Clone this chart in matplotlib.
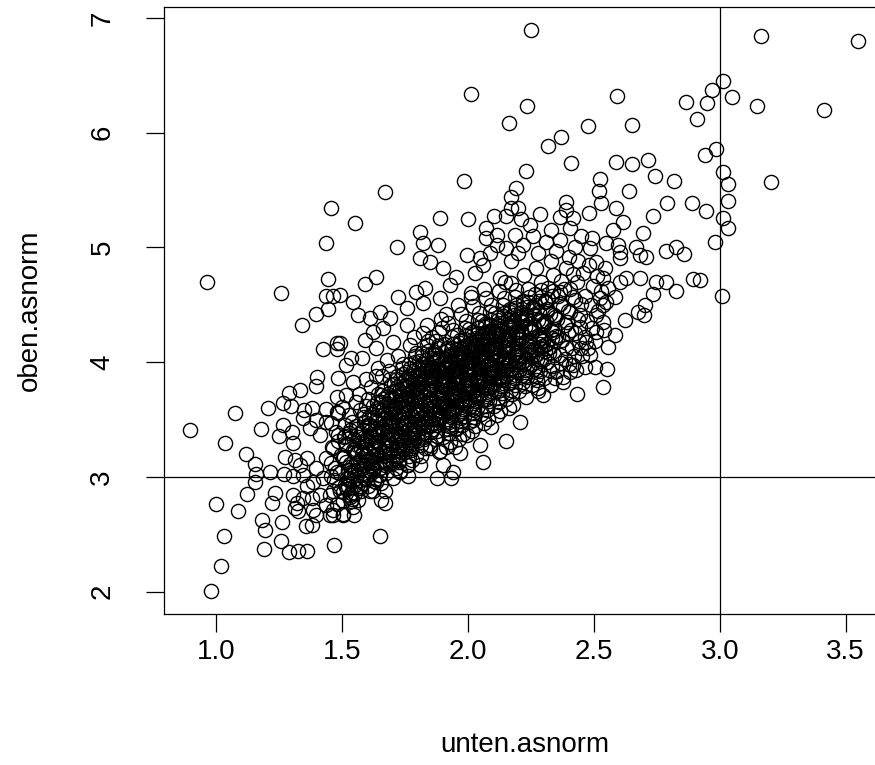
import matplotlib
matplotlib.use("Agg")
import matplotlib.pyplot as plt

plt.rcParams['font.family'] = ['Liberation Sans', 'DejaVu Sans']

# ---------------- data (unten.asnorm, oben.asnorm) ----------------
top_pts = [(2.252,6.893),(3.163,6.844),(3.549,6.798),(3.014,6.452),(2.971,6.376),(2.950,6.260),(3.049,6.313),
           (3.146,6.237),(3.413,6.202),(2.011,6.336),(2.163,6.086),(2.235,6.234),(2.594,6.324),(2.867,6.272),
           (2.910,6.120),(2.477,6.060),(2.653,6.066),(2.371,5.964),(2.318,5.883),(2.941,5.810),(2.984,5.854),
           (3.014,5.659),(3.033,5.552),(3.033,5.407),(3.203,5.572),(2.232,5.668),(2.411,5.732),(2.590,5.741),
           (2.653,5.726),(2.715,5.761),(2.742,5.619),(2.817,5.581),(2.523,5.595),(2.519,5.494),(2.640,5.494),
           (2.527,5.386),(2.391,5.392),(2.791,5.389),(2.890,5.386),(1.985,5.581),(1.671,5.485),(2.190,5.514),
           (2.173,5.442),(2.173,5.340),(2.200,5.340),(1.456,5.340)]

right_pts = [(2.285,5.29),(2.391,5.325),(2.48,5.30),(2.587,5.340),(2.735,5.27),(2.947,5.32),(3.014,5.26),
             (3.033,5.166),(2.981,5.050),(2.921,4.716),(3.010,4.576),(2.103,5.27),(2.153,5.27),
             (2.696,5.122),(2.616,5.224),(2.577,5.152),(2.491,5.079),(2.788,4.968),(2.828,5.006),(2.858,4.939),
             (2.682,4.934),(2.709,4.919),(2.603,4.963),(2.669,5.006),(2.894,4.722),(2.828,4.620),(2.788,4.701),
             (2.748,4.701),(2.735,4.594),(2.682,4.730),(2.629,4.730),(2.603,4.701),(2.702,4.498),(2.676,4.440),
             (2.698,4.411),(2.623,4.367),(2.583,4.237),(2.557,4.135),(2.504,3.961),(2.553,3.941),(2.537,3.781),
             (2.434,3.723),(2.583,4.571),(2.550,4.527),(2.451,4.121),(2.418,3.975),(2.378,3.830),(2.299,3.714),
             (2.596,5.021),(2.603,4.905),(2.543,4.817),(2.510,4.876),(2.537,4.730),(2.557,4.643),(2.524,4.556),
             (2.510,4.411),(2.537,4.353),(2.510,4.266),(2.471,4.179),(2.484,4.063),(2.464,3.961),(2.404,3.917),
             (2.345,3.859),(2.279,3.772),(2.365,5.268),(2.418,5.253),(2.404,5.166),(2.246,5.195),(2.312,5.050),
             (2.365,5.064),(2.424,5.006),(2.484,4.992),(2.550,5.035),(2.26,5.10),(2.33,5.15),(2.22,5.02),
             (2.28,4.95),(2.40,4.92),(2.35,4.97),(2.45,5.10),(2.21,5.25),(2.17,4.88),(2.09,4.95),(2.20,4.95),
             (2.03,4.78)]

upper_left_pts = [(1.552,5.210),(1.889,5.253),(2.001,5.247),(2.074,5.166),(1.809,5.137),(1.717,5.006),
                  (1.882,5.021),(1.823,5.035),(1.995,4.934),(2.114,5.021),(2.186,5.108),(1.635,4.745),
                  (1.591,4.678),(1.723,4.571),(1.545,4.527),(1.565,4.411),(1.651,4.440),(1.611,4.382),
                  (1.492,4.585),(1.538,4.034),(1.492,4.164),(1.591,4.193),(1.624,4.266),(1.578,4.034),
                  (1.545,3.830),(1.829,4.643),(1.823,4.513),(1.889,4.556),(1.929,4.672),(2.014,4.600),
                  (1.809,4.905),(1.849,4.876),(1.902,4.817),(1.955,4.745),(2.061,4.846),(2.127,4.730),
                  (2.074,5.079),(2.114,5.108),(2.153,4.992),(2.048,4.905),(1.690,4.382),(1.757,4.469),
                  (1.796,4.614),(1.757,4.324),(1.664,4.295),(1.704,4.179),(1.637,4.121),(1.518,3.975),
                  (1.436,5.035),(0.963,4.696),(1.258,4.605),(1.446,4.722),(1.439,4.576),(1.466,4.576),
                  (1.446,4.460),(1.399,4.417),(1.343,4.324),(1.426,4.112),(1.479,4.170),(1.479,4.112),
                  (1.403,3.868),(1.399,3.792),(1.333,3.758),(1.291,3.734),(1.267,3.647),(1.300,3.621),
                  (1.208,3.598),(1.075,3.560),(1.351,3.583),(1.380,3.598),(1.439,3.589),(1.479,3.569),
                  (1.485,3.859),(1.479,3.700)]

lower_left_pts = [(0.897,3.409),(1.038,3.299),(1.181,3.418),(1.265,3.453),(1.250,3.357),(1.304,3.395),
                  (1.307,3.293),(1.119,3.197),(1.157,3.110),(1.161,3.023),(1.155,2.951),(1.124,2.852),
                  (1.214,3.038),(1.270,3.023),(1.274,3.177),(1.314,3.148),(1.234,2.863),(1.224,2.776),
                  (0.999,2.765),(1.089,2.704),(1.184,2.620),(1.194,2.532),(1.263,2.602),(1.032,2.486),
                  (1.258,2.442),(1.192,2.370),(1.291,2.341),(1.324,2.355),(1.360,2.350),(1.022,2.225),
                  (0.980,2.007),(1.356,2.567),(1.380,2.582),(1.470,2.408),(1.384,2.712),
                  (1.307,2.843),(1.320,2.771),(1.313,2.727),(1.327,2.698),(1.347,2.814),(1.360,2.916),
                  (1.386,2.959),(1.413,2.843),(1.439,2.756),(1.452,2.669),(1.466,2.872),(1.426,2.988),
                  (1.399,3.075),(1.439,3.163),(1.466,3.250),(1.413,3.366),(1.373,3.424),(1.439,3.482),
                  (1.347,3.511),(1.399,3.496),(1.360,3.163),(1.333,3.104),(1.307,3.003),(1.347,3.017),
                  (1.380,2.814),(1.399,2.669),(1.466,2.669),(1.479,3.046),(1.486,3.366),
                  (1.651,2.486),(1.548,2.669),(1.671,2.771),(1.657,2.800),(1.671,2.872),(1.538,2.785),
                  (1.876,2.988),(1.935,2.988),(1.942,3.046),(1.902,3.104),(1.968,3.206),(1.948,3.264),
                  (2.048,3.279),(2.153,3.308),(2.061,3.133),(2.094,3.438),(2.206,3.482),(2.021,3.496),
                  (1.809,3.104),(1.763,3.003),(1.730,3.046),(1.757,3.104),(1.849,3.250),(1.624,2.872),
                  (1.571,2.916),(1.505,2.669),(1.532,2.843),(1.637,2.959),(1.704,2.988),(1.796,3.192),
                  (1.889,3.221),(1.995,3.366),(1.955,3.424)]

band_145 = [(1.452,2.84),(1.468,2.97),(1.455,3.12),(1.481,2.76),(1.493,3.03),(1.462,3.26),(1.476,3.39),(1.487,2.91),
            (1.458,3.47),(1.471,3.08),(1.498,3.19),(1.464,2.71),(1.483,3.31),(1.491,2.88),(1.457,3.01),(1.486,3.56)]
band_150 = [(1.503,2.79),(1.512,2.93),(1.524,3.06),(1.536,2.86),(1.548,3.22),(1.507,3.35),(1.518,3.13),(1.529,2.99),
            (1.541,3.48),(1.546,2.74),(1.501,3.61),(1.515,3.28),(1.533,3.41),(1.539,3.09),(1.522,2.89),(1.509,3.17),
            (1.544,2.96),(1.527,3.54),(1.517,3.71),(1.535,3.02),(1.505,2.68),(1.549,3.33),(1.513,3.45),(1.531,2.82)]
band_155 = [(1.552,2.86),(1.561,3.02),(1.574,3.15),(1.583,2.95),(1.596,3.28),(1.556,3.42),(1.567,3.35),(1.579,3.08),
            (1.588,3.55),(1.593,3.18),(1.558,3.65),(1.571,2.90),(1.585,3.22),(1.599,3.45),(1.563,3.12),(1.577,3.38),
            (1.591,2.98),(1.554,3.05),(1.569,3.72),(1.581,3.30),(1.597,3.62),(1.565,2.80),(1.587,3.48),(1.575,3.25),
            (1.559,3.20),(1.594,3.85),(1.572,3.58),(1.589,3.10)]
band_160 = [(1.602,2.92),(1.611,3.05),(1.624,3.18),(1.636,3.30),(1.648,3.02),(1.607,3.45),(1.618,3.55),(1.629,3.25),
            (1.641,3.38),(1.646,3.12),(1.604,3.68),(1.615,3.78),(1.633,2.98),(1.639,3.48),(1.622,3.62),(1.609,3.15),
            (1.644,3.72),(1.627,3.08),(1.617,3.35),(1.635,3.88),(1.605,3.22),(1.649,3.58),(1.613,2.88),(1.631,3.42),
            (1.642,3.95),(1.621,3.28),(1.626,3.52),(1.638,3.65),(1.612,3.40),(1.645,3.20),(1.619,3.10),(1.632,3.32)]
band_165 = [(1.651,3.02),(1.662,3.15),(1.674,3.28),(1.683,3.40),(1.696,3.52),(1.656,3.65),(1.667,3.22),(1.679,3.35),
            (1.688,3.48),(1.693,3.60),(1.658,3.75),(1.671,3.10),(1.685,3.32),(1.699,3.45),(1.663,3.58),(1.677,3.70),
            (1.691,3.85),(1.654,2.95),(1.669,3.18),(1.681,3.38),(1.697,3.55),(1.665,3.68),(1.687,3.92),(1.675,3.25),
            (1.659,3.42),(1.694,3.80),(1.672,3.50),(1.689,3.62),(1.653,3.08),(1.668,3.30),(1.684,3.72),(1.678,4.02),
            (1.692,3.12),(1.661,3.88),(1.673,3.45),(1.686,3.20)]
band_170 = [(1.702,3.12),(1.713,3.25),(1.724,3.38),(1.736,3.50),(1.747,3.62),(1.706,3.75),(1.717,3.88),(1.729,3.05),
            (1.741,3.30),(1.746,3.45),(1.704,3.58),(1.715,3.70),(1.733,3.82),(1.739,3.95),(1.722,3.18),(1.709,3.40),
            (1.744,3.52),(1.727,3.65),(1.718,3.78),(1.735,3.22),(1.705,3.35),(1.749,3.48),(1.712,3.60),(1.731,3.72),
            (1.742,3.90),(1.721,4.05),(1.726,3.15),(1.738,3.42),(1.711,3.55),(1.745,3.68),(1.719,3.85),(1.732,3.28),
            (1.708,3.62),(1.728,3.75),(1.743,3.98),(1.716,3.08),(1.734,3.32),(1.723,3.55),(1.701,3.70),(1.748,3.45)]
band_175 = [(1.752,3.22),(1.763,3.35),(1.774,3.48),(1.786,3.60),(1.797,3.72),(1.756,3.85),(1.767,3.98),(1.779,3.15),
            (1.791,3.40),(1.796,3.55),(1.754,3.68),(1.765,3.80),(1.783,3.92),(1.789,4.05),(1.772,3.28),(1.759,3.50),
            (1.794,3.62),(1.777,3.75),(1.768,3.88),(1.785,3.32),(1.755,3.45),(1.799,3.58),(1.762,3.70),(1.781,3.82),
            (1.792,4.00),(1.771,4.15),(1.776,3.25),(1.788,3.52),(1.761,3.65),(1.795,3.78),(1.769,3.95),(1.782,3.38),
            (1.758,3.72),(1.778,3.85),(1.793,4.08),(1.766,3.18),(1.784,3.42),(1.773,3.65),(1.751,3.80),(1.798,3.55),
            (1.764,3.10),(1.787,4.22)]
band_180 = [(1.802,3.32),(1.813,3.45),(1.824,3.58),(1.836,3.70),(1.847,3.82),(1.806,3.95),(1.817,4.08),(1.829,3.25),
            (1.841,3.50),(1.846,3.65),(1.804,3.78),(1.815,3.90),(1.833,4.02),(1.839,4.15),(1.822,3.38),(1.809,3.60),
            (1.844,3.72),(1.827,3.85),(1.818,3.98),(1.835,3.42),(1.805,3.55),(1.849,3.68),(1.812,3.80),(1.831,3.92),
            (1.842,4.10),(1.821,4.25),(1.826,3.35),(1.838,3.62),(1.811,3.75),(1.845,3.88),(1.819,4.05),(1.832,3.48),
            (1.808,3.82),(1.828,3.95),(1.843,4.18),(1.816,3.28),(1.834,3.52),(1.823,3.75),(1.801,3.90),(1.848,3.65),
            (1.814,3.18),(1.837,4.32)]
band_185 = [(1.851,3.28),(1.862,3.42),(1.873,3.55),(1.884,3.67),(1.896,3.80),(1.857,3.93),(1.866,4.06),(1.878,3.36),
            (1.889,3.61),(1.894,3.74),(1.853,3.88),(1.868,4.01),(1.881,4.14),(1.898,4.30),(1.861,3.47),(1.875,3.70),
            (1.891,3.83),(1.855,3.96),(1.869,4.09),(1.883,3.51),(1.897,3.64),(1.864,3.78),(1.886,3.91),(1.874,4.04),
            (1.858,4.22),(1.893,4.38),(1.871,3.33),(1.888,3.58),(1.852,3.86),(1.867,3.99),(1.882,4.12),(1.877,3.45),
            (1.892,3.72),(1.859,3.84),(1.872,4.18),(1.885,3.22),(1.899,3.53),(1.863,3.66),(1.879,3.94),(1.887,4.26),
            (1.854,3.39),(1.895,3.81),(1.876,4.02),(1.865,3.62)]
band_190 = [(1.903,3.35),(1.914,3.48),(1.926,3.60),(1.937,3.73),(1.948,3.86),(1.906,3.99),(1.918,4.12),(1.929,3.30),
            (1.941,3.55),(1.946,3.68),(1.904,3.81),(1.916,3.94),(1.933,4.07),(1.939,4.22),(1.921,3.42),(1.909,3.64),
            (1.944,3.77),(1.927,3.90),(1.917,4.03),(1.936,3.46),(1.905,3.59),(1.949,3.72),(1.912,3.85),(1.931,3.97),
            (1.942,4.16),(1.922,4.34),(1.925,3.38),(1.938,3.66),(1.911,3.79),(1.945,3.92),(1.919,4.10),(1.932,3.52),
            (1.908,3.87),(1.928,4.00),(1.943,4.28),(1.915,3.26),(1.934,3.57),(1.923,3.80),(1.901,3.95),(1.947,3.70),
            (1.913,4.42),(1.935,4.05),(1.924,3.44),(1.940,3.84)]
band_195 = [(1.953,3.42),(1.964,3.55),(1.975,3.68),(1.987,3.80),(1.998,3.93),(1.956,4.06),(1.968,4.19),(1.979,3.37),
            (1.991,3.62),(1.996,3.75),(1.954,3.88),(1.966,4.01),(1.983,4.14),(1.989,4.30),(1.971,3.49),(1.959,3.71),
            (1.994,3.84),(1.977,3.97),(1.967,4.10),(1.986,3.53),(1.955,3.66),(1.999,3.79),(1.962,3.92),(1.981,4.04),
            (1.992,4.23),(1.972,4.42),(1.975,3.45),(1.988,3.73),(1.961,3.86),(1.995,3.99),(1.969,4.17),(1.982,3.59),
            (1.958,3.94),(1.978,4.07),(1.993,4.36),(1.965,3.33),(1.984,3.64),(1.973,3.87),(1.951,4.02),(1.997,3.77),
            (1.963,4.50),(1.985,4.12),(1.974,3.51),(1.990,3.91)]
band_200 = [(2.003,3.48),(2.014,3.62),(2.026,3.75),(2.037,3.87),(2.048,4.00),(2.006,4.13),(2.018,4.26),(2.029,3.44),
            (2.041,3.69),(2.046,3.82),(2.004,3.95),(2.016,4.08),(2.033,4.21),(2.039,4.37),(2.021,3.56),(2.009,3.78),
            (2.044,3.91),(2.027,4.04),(2.017,4.17),(2.036,3.60),(2.005,3.73),(2.049,3.86),(2.012,3.99),(2.031,4.11),
            (2.042,4.30),(2.022,4.49),(2.025,3.52),(2.038,3.80),(2.011,3.93),(2.045,4.06),(2.019,4.24),(2.032,3.66),
            (2.008,4.01),(2.028,4.14),(2.043,4.43),(2.015,3.40),(2.034,3.71),(2.023,3.94),(2.001,4.09),(2.047,3.84),
            (2.013,4.57),(2.035,4.19),(2.024,3.58),(2.040,3.98)]
band_205 = [(2.053,3.55),(2.064,3.68),(2.075,3.81),(2.087,3.94),(2.098,4.07),(2.056,4.20),(2.068,4.33),(2.079,3.50),
            (2.091,3.75),(2.096,3.88),(2.054,4.01),(2.066,4.14),(2.083,4.27),(2.089,4.44),(2.071,3.62),(2.059,3.85),
            (2.094,3.98),(2.077,4.11),(2.067,4.24),(2.086,3.66),(2.055,3.79),(2.099,3.92),(2.062,4.05),(2.081,4.18),
            (2.092,4.37),(2.072,4.56),(2.075,3.58),(2.088,3.86),(2.061,4.00),(2.095,4.13),(2.069,4.31),(2.082,3.72),
            (2.058,4.08),(2.078,4.21),(2.093,4.50),(2.065,3.47),(2.084,3.77),(2.073,4.01),(2.051,4.16),(2.097,3.90),
            (2.063,4.64),(2.085,4.26)]
band_210 = [(2.103,3.62),(2.114,3.75),(2.126,3.88),(2.137,4.00),(2.148,4.13),(2.106,4.26),(2.118,4.39),(2.129,3.57),
            (2.141,3.82),(2.146,3.95),(2.104,4.08),(2.116,4.21),(2.133,4.34),(2.139,4.50),(2.121,3.69),(2.109,3.91),
            (2.144,4.04),(2.127,4.17),(2.117,4.30),(2.136,3.73),(2.105,3.86),(2.149,3.99),(2.112,4.12),(2.131,4.24),
            (2.142,4.43),(2.122,4.62),(2.125,3.65),(2.138,3.93),(2.111,4.06),(2.145,4.19),(2.119,4.37),(2.132,3.79),
            (2.108,4.14),(2.128,4.27),(2.143,4.56),(2.115,3.54),(2.134,3.84),(2.123,4.07),(2.101,4.22),(2.147,4.70)]
band_215 = [(2.153,3.68),(2.164,3.82),(2.175,3.95),(2.187,4.08),(2.198,4.20),(2.156,4.33),(2.168,4.46),(2.179,3.63),
            (2.191,3.89),(2.196,4.02),(2.154,4.15),(2.166,4.28),(2.183,4.41),(2.189,4.57),(2.171,3.76),(2.159,3.98),
            (2.194,4.11),(2.177,4.24),(2.167,4.37),(2.186,3.80),(2.155,3.93),(2.199,4.06),(2.162,4.19),(2.181,4.31),
            (2.192,4.50),(2.172,4.69),(2.175,3.72),(2.188,4.00),(2.161,4.13),(2.195,4.26),(2.169,4.44),(2.182,3.86),
            (2.158,4.21),(2.178,4.34),(2.193,4.63),(2.165,3.60)]
band_220 = [(2.203,3.75),(2.214,3.89),(2.226,4.02),(2.237,4.15),(2.248,4.27),(2.206,4.40),(2.218,4.53),(2.229,3.70),
            (2.241,3.96),(2.246,4.09),(2.204,4.22),(2.216,4.35),(2.233,4.48),(2.239,4.64),(2.221,3.83),(2.209,4.05),
            (2.244,4.18),(2.227,4.31),(2.217,4.44),(2.236,3.87),(2.205,4.00),(2.249,4.13),(2.212,4.26),(2.231,4.38),
            (2.242,4.57),(2.222,4.76),(2.225,3.79),(2.238,4.07),(2.211,4.20),(2.245,4.33),(2.219,4.51),(2.232,3.93)]
band_225 = [(2.253,3.80),(2.264,3.94),(2.275,4.07),(2.287,4.20),(2.298,4.33),(2.256,4.46),(2.268,4.59),(2.279,3.75),
            (2.291,4.01),(2.296,4.14),(2.254,4.27),(2.266,4.40),(2.283,4.53),(2.289,4.70),(2.271,3.88),(2.259,4.11),
            (2.294,4.24),(2.277,4.37),(2.267,4.50),(2.286,3.92),(2.255,4.05),(2.299,4.18),(2.262,4.31),(2.281,4.44),
            (2.292,4.63),(2.272,4.82),(2.275,3.84),(2.288,4.12)]
band_230 = [(2.303,3.86),(2.314,4.00),(2.326,4.13),(2.337,4.26),(2.348,4.39),(2.306,4.52),(2.318,4.65),(2.329,3.80),
            (2.341,4.06),(2.346,4.19),(2.304,4.32),(2.316,4.45),(2.333,4.58),(2.339,4.76),(2.321,3.93),(2.309,4.16),
            (2.344,4.29),(2.327,4.42),(2.317,4.55),(2.336,3.97),(2.305,4.10),(2.349,4.23),(2.312,4.36),(2.331,4.88)]
band_235 = [(2.353,3.92),(2.364,4.06),(2.375,4.19),(2.387,4.32),(2.398,4.45),(2.356,4.58),(2.368,4.71),(2.379,3.87),
            (2.391,4.12),(2.396,4.25),(2.354,4.38),(2.366,4.51),(2.383,4.64),(2.389,4.82),(2.371,3.99),(2.359,4.22),
            (2.394,4.35),(2.377,4.48),(2.367,4.61),(2.386,4.03)]
band_240 = [(2.403,3.98),(2.414,4.12),(2.426,4.25),(2.437,4.38),(2.448,4.51),(2.406,4.64),(2.418,4.77),(2.429,3.93),
            (2.441,4.18),(2.446,4.31),(2.404,4.44),(2.416,4.57),(2.433,4.70),(2.439,4.88),(2.421,4.05),(2.409,4.28),
            (2.444,4.41),(2.427,4.54)]
band_245 = [(2.453,4.05),(2.464,4.22),(2.475,4.36),(2.487,4.50),(2.498,4.66),(2.456,4.78),(2.479,4.12),(2.491,4.30),
            (2.466,4.58),(2.483,4.85)]
band_250 = [(2.503,4.18),(2.518,4.45),(2.529,4.62),(2.541,4.28),(2.512,4.75),(2.535,4.50)]

# densest core of the cloud
core_150 = [(1.506,2.87),(1.519,2.99),(1.532,3.11),(1.545,3.23),(1.511,3.36),(1.526,2.92),(1.538,3.04),(1.503,3.16),
            (1.515,3.29),(1.541,2.81),(1.528,3.38),(1.548,3.06)]
core_155 = [(1.553,2.93),(1.566,3.06),(1.579,3.19),(1.592,3.31),(1.558,3.44),(1.573,2.97),(1.585,3.10),(1.551,3.24),
            (1.563,3.37),(1.589,3.52),(1.576,2.88),(1.597,3.14),(1.561,3.28),(1.582,3.41)]
core_160 = [(1.603,3.02),(1.616,3.14),(1.629,3.27),(1.642,3.39),(1.608,3.52),(1.623,3.06),(1.635,3.19),(1.601,3.32),
            (1.613,3.45),(1.639,3.60),(1.626,2.96),(1.647,3.23),(1.611,3.36),(1.632,3.49),(1.619,3.12),(1.644,3.31)]
core_165 = [(1.653,3.08),(1.666,3.21),(1.679,3.33),(1.692,3.46),(1.658,3.58),(1.673,3.13),(1.685,3.26),(1.651,3.39),
            (1.663,3.51),(1.689,3.67),(1.676,3.03),(1.697,3.29),(1.661,3.43),(1.682,3.56),(1.669,3.18),(1.694,3.37),
            (1.656,3.71),(1.687,3.14)]
core_170 = [(1.703,3.18),(1.716,3.31),(1.729,3.43),(1.742,3.56),(1.708,3.68),(1.723,3.23),(1.735,3.36),(1.701,3.49),
            (1.713,3.61),(1.739,3.77),(1.726,3.13),(1.747,3.39),(1.711,3.53),(1.732,3.66),(1.719,3.28),(1.744,3.47),
            (1.706,3.81),(1.737,3.24)]
core_175 = [(1.753,3.28),(1.766,3.41),(1.779,3.53),(1.792,3.66),(1.758,3.78),(1.773,3.33),(1.785,3.46),(1.751,3.59),
            (1.763,3.71),(1.789,3.87),(1.776,3.23),(1.797,3.49),(1.761,3.63),(1.782,3.76),(1.769,3.38),(1.794,3.57),
            (1.756,3.91),(1.787,3.34),(1.771,3.68),(1.798,3.82)]
core_180 = [(1.803,3.38),(1.816,3.51),(1.829,3.63),(1.842,3.76),(1.808,3.88),(1.823,3.43),(1.835,3.56),(1.801,3.69),
            (1.813,3.81),(1.839,3.97),(1.826,3.33),(1.847,3.59),(1.811,3.73),(1.832,3.86),(1.819,3.48),(1.844,3.67),
            (1.806,4.01),(1.837,3.44),(1.821,3.78),(1.848,3.92)]
core_185 = [(1.853,3.45),(1.866,3.58),(1.879,3.70),(1.892,3.83),(1.858,3.95),(1.873,3.50),(1.885,3.63),(1.851,3.76),
            (1.863,3.88),(1.889,4.04),(1.876,3.40),(1.897,3.66),(1.861,3.80),(1.882,3.93),(1.869,3.55),(1.894,3.74),
            (1.856,4.08),(1.887,3.51),(1.871,3.85),(1.898,3.99)]
core_190 = [(1.903,3.53),(1.916,3.66),(1.929,3.78),(1.942,3.91),(1.908,4.03),(1.923,3.58),(1.935,3.71),(1.901,3.84),
            (1.913,3.96),(1.939,4.12),(1.926,3.48),(1.947,3.74),(1.911,3.88),(1.932,4.01),(1.919,3.63),(1.944,3.82),
            (1.906,4.16),(1.937,3.59),(1.921,3.93),(1.948,4.07)]
core_195 = [(1.953,3.61),(1.966,3.74),(1.979,3.86),(1.992,3.99),(1.958,4.11),(1.973,3.66),(1.985,3.79),(1.951,3.92),
            (1.963,4.04),(1.989,4.20),(1.976,3.56),(1.997,3.82),(1.961,3.96),(1.982,4.09),(1.969,3.71),(1.994,3.90),
            (1.956,4.24),(1.987,3.67),(1.971,4.01),(1.998,4.15)]
core_200 = [(2.003,3.66),(2.016,3.79),(2.029,3.91),(2.042,4.04),(2.008,4.16),(2.023,3.71),(2.035,3.84),(2.001,3.97),
            (2.013,4.09),(2.039,4.25),(2.026,3.61),(2.047,3.87),(2.011,4.01),(2.032,4.14),(2.019,3.76),(2.044,3.95),
            (2.006,4.29),(2.037,3.72),(2.021,4.06),(2.048,4.20)]
core_205 = [(2.053,3.73),(2.066,3.86),(2.079,3.98),(2.092,4.11),(2.058,4.23),(2.073,3.78),(2.085,3.91),(2.051,4.04),
            (2.063,4.16),(2.089,4.32),(2.076,3.68),(2.097,3.94),(2.061,4.08),(2.082,4.21),(2.069,3.83),(2.094,4.02),
            (2.056,4.36),(2.087,3.79),(2.071,4.13),(2.098,4.27)]
core_210 = [(2.103,3.81),(2.116,3.94),(2.129,4.06),(2.142,4.19),(2.108,4.31),(2.123,3.86),(2.135,3.99),(2.101,4.12),
            (2.113,4.24),(2.139,4.40),(2.126,3.76),(2.147,4.02),(2.111,4.16),(2.132,4.29),(2.119,3.91),(2.144,4.10),
            (2.106,4.43),(2.137,3.87)]
core_215 = [(2.153,3.88),(2.166,4.01),(2.179,4.13),(2.192,4.26),(2.158,4.38),(2.173,3.93),(2.185,4.06),(2.151,4.19),
            (2.163,4.31),(2.189,4.47),(2.176,3.83),(2.197,4.09),(2.161,4.23),(2.182,4.36),(2.169,3.98),(2.194,4.17)]
core_220 = [(2.203,3.93),(2.216,4.06),(2.229,4.18),(2.242,4.31),(2.208,4.43),(2.223,3.98),(2.235,4.11),(2.201,4.24),
            (2.213,4.36),(2.239,4.52),(2.226,3.88),(2.247,4.14),(2.211,4.28),(2.232,4.41)]
core_225 = [(2.253,3.98),(2.266,4.11),(2.279,4.23),(2.292,4.36),(2.258,4.48),(2.273,4.03),(2.285,4.16),(2.251,4.29),
            (2.263,4.41),(2.289,4.57),(2.276,3.93),(2.297,4.19)]
core_230 = [(2.303,4.03),(2.316,4.16),(2.329,4.28),(2.342,4.41),(2.308,4.53),(2.323,4.08),(2.335,4.21),(2.301,4.34),
            (2.313,4.46),(2.339,4.62)]

x_ticks = [1.0, 1.5, 2.0, 2.5, 3.0, 3.5]
x_tick_labels = ["1.0", "1.5", "2.0", "2.5", "3.0", "3.5"]
y_ticks = [2, 3, 4, 5, 6, 7]
y_tick_labels = ["2", "3", "4", "5", "6", "7"]
ref_h = 3.0
ref_v = 3.0

groups = [top_pts, right_pts, upper_left_pts, lower_left_pts,
          band_145, band_150, band_155, band_160, band_165, band_170, band_175, band_180,
          band_185, band_190, band_195, band_200, band_205, band_210, band_215, band_220,
          band_225, band_230, band_235, band_240, band_245, band_250,
          core_150, core_155, core_160, core_165, core_170, core_175, core_180, core_185,
          core_190, core_195, core_200, core_205, core_210, core_215, core_220, core_225, core_230]
xs = [p[0] for g in groups for p in g]
ys = [p[1] for g in groups for p in g]

# ---------------- figure ----------------
W, H = 875, 765
fig = plt.figure(figsize=(W / 100, H / 100), dpi=100)
ax = fig.add_axes([164 / W, (H - 614) / H, 721 / W, 607 / H])

ax.plot(xs, ys, linestyle='none', marker='o', mfc='none', mec='black', ms=10.2, mew=1.0)
ax.axhline(ref_h, color='black', lw=0.9)
ax.axvline(ref_v, color='black', lw=0.9)

ax.set_xlim(0.794, 3.656)
ax.set_ylim(1.804, 7.096)
ax.set_xticks(x_ticks)
ax.set_xticklabels(x_tick_labels)
ax.set_yticks(y_ticks)
ax.set_yticklabels(y_tick_labels)
for s in ax.spines.values():
    s.set_linewidth(0.9)
ax.tick_params(direction='out', length=13, width=0.9, labelsize=20, color='black')
ax.tick_params(axis='x', pad=5)
ax.tick_params(axis='y', pad=22)
for lbl in ax.get_yticklabels():
    lbl.set_rotation(90)
    lbl.set_va('center')
    lbl.set_ha('right')

fig.text(525 / W, 1 - 745 / H, "unten.asnorm", ha='center', va='center', fontsize=20)
fig.text(30 / W, 1 - 310 / H, "oben.asnorm", ha='center', va='center', rotation=90, fontsize=20)

fig.savefig("out.png", dpi=100)
